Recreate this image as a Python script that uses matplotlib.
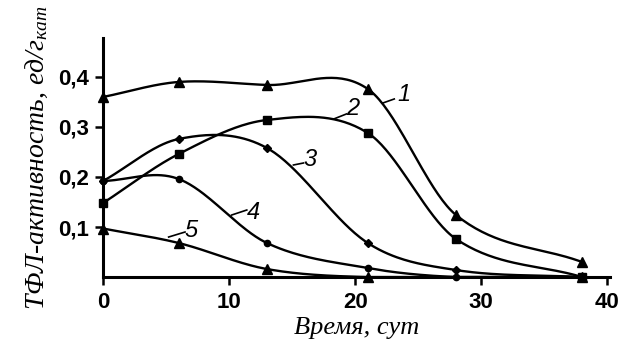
import numpy as np
import matplotlib
matplotlib.use('Agg')
import matplotlib.pyplot as plt

plt.rcParams['mathtext.fontset'] = 'custom'
plt.rcParams['mathtext.it'] = 'Liberation Serif:italic'
plt.rcParams['mathtext.rm'] = 'Liberation Serif'

# -- data
x1 = [0, 6, 13, 21, 28, 38]
y1 = [0.36, 0.39, 0.384, 0.376, 0.124, 0.03]
x2 = [0, 6, 13, 21, 28, 38]
y2 = [0.148, 0.246, 0.314, 0.288, 0.076, 0.0]
x3 = [0, 6, 13, 21, 28, 38]
y3 = [0.192, 0.276, 0.258, 0.068, 0.014, 0.0]
x4 = [0, 6, 13, 21, 28, 38]
y4 = [0.192, 0.196, 0.068, 0.018, 0.0, 0.0]
x5 = [0, 6, 13, 21, 38]
y5 = [0.097, 0.068, 0.016, 0.0, 0.0]

names = ['1', '2', '3', '4', '5']
label_xy = [(23.9, 0.364), (19.8, 0.336), (16.4, 0.234), (11.9, 0.13), (7.0, 0.094)]
leader_from = [(22.2, 0.348), (18.3, 0.316), (15.1, 0.224), (10.2, 0.124), (5.2, 0.08)]
leader_to = [(23.1, 0.356), (19.3, 0.326), (15.9, 0.228), (11.4, 0.134), (6.5, 0.09)]

xticks = [0, 10, 20, 30, 40]
yticks = [0.1, 0.2, 0.3, 0.4]
ytick_labels = ['0,1', '0,2', '0,3', '0,4']


def smooth(x, y, n=40):
    # cubic Hermite with Catmull-Rom tangents, only for drawing the line
    x = np.asarray(x, float)
    y = np.asarray(y, float)
    m = np.gradient(y, x, edge_order=1)
    m[1:-1] = (y[2:] - y[:-2]) / (x[2:] - x[:-2])
    xs_all, ys_all = [], []
    for i in range(len(x) - 1):
        h = x[i + 1] - x[i]
        t = np.linspace(0, 1, n)
        h00 = 2 * t**3 - 3 * t**2 + 1
        h10 = t**3 - 2 * t**2 + t
        h01 = -2 * t**3 + 3 * t**2
        h11 = t**3 - t**2
        xs_all.append(x[i] + t * h)
        ys_all.append(h00 * y[i] + h10 * h * m[i] + h01 * y[i + 1] + h11 * h * m[i + 1])
    return np.concatenate(xs_all), np.maximum(np.concatenate(ys_all), 0)


fig = plt.figure(figsize=(6.21, 3.45), dpi=100)
ax = fig.add_axes([0.166, 0.197, 0.816, 0.693])

series = [(x1, y1, '^', 7.5), (x2, y2, 's', 5.5), (x3, y3, 'D', 4), (x4, y4, 'o', 4.5), (x5, y5, '^', 7)]
for x, y, mk, ms in series:
    xs, ys = smooth(x, y)
    ax.plot(xs, ys, color='black', lw=1.7, zorder=2)
    ax.plot(x, y, ls='none', marker=mk, ms=ms, color='black', zorder=3, clip_on=False)

for name, (lx, ly), (fx, fy), (tx, ty) in zip(names, label_xy, leader_from, leader_to):
    ax.plot([fx, tx], [fy, ty], color='black', lw=1.2)
    ax.text(lx, ly, name, fontsize=17, style='italic', family='Liberation Sans',
            ha='center', va='center')

ax.set_xlim(0, 40.2)
ax.set_ylim(0, 0.478)
ax.set_xticks(xticks)
ax.set_yticks(yticks)
ax.set_yticklabels(ytick_labels)
ax.set_xticklabels([str(t) for t in xticks])
for lab in ax.get_xticklabels() + ax.get_yticklabels():
    lab.set_family('Liberation Sans')
    lab.set_fontweight('bold')
    lab.set_fontsize(16)
ax.tick_params(direction='out', length=6, width=1.8, pad=4)
ax.tick_params(axis='x', pad=5)
ax.spines['top'].set_visible(False)
ax.spines['right'].set_visible(False)
ax.spines['left'].set_linewidth(2.2)
ax.spines['bottom'].set_linewidth(2.2)

ax.set_xlabel('Время, сут', fontsize=19, family='Liberation Serif', style='italic', labelpad=3)
ax.set_ylabel('ТФЛ-активность, ед/г$_{\\mathit{кат}}$', fontsize=20,
              family='Liberation Serif', style='italic', labelpad=6)

fig.savefig('out.png', dpi=100)
